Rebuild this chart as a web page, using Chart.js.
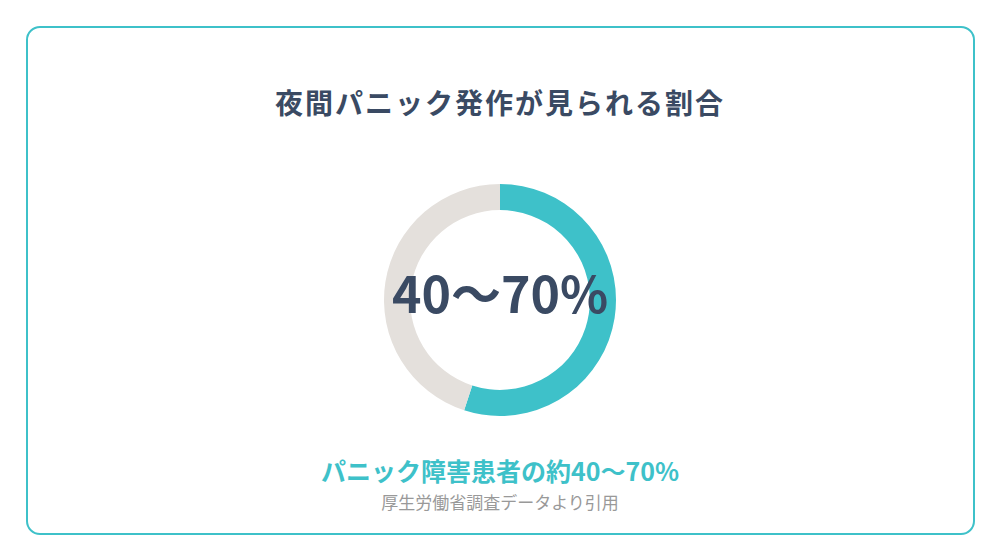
<!DOCTYPE html>
<html lang="ja">
<head>
<meta charset="utf-8">
<script src="https://cdn.jsdelivr.net/npm/chart.js@4/dist/chart.umd.min.js"></script>
<style>
  html, body { margin: 0; padding: 0; background: #fff; }
  body { width: 1000px; height: 560px; position: relative; font-family: "Noto Sans CJK JP", "Noto Sans", sans-serif; }
  .card {
    position: absolute; left: 26px; top: 26px; width: 945px; height: 505px;
    border: 2px solid #3ec1c9; border-radius: 14px; background: #fff;
  }
  .title {
    position: absolute; left: 0; top: 84px; width: 1000px; text-align: center;
    font-size: 28px; font-weight: 700; color: #3a4a63; line-height: 36px; letter-spacing: 2px;
  }
  .chart-box { position: absolute; left: 384px; top: 184px; width: 232px; height: 232px; }
  .sub {
    position: absolute; left: 0; top: 453px; width: 1000px; text-align: center;
    font-size: 25px; font-weight: 700; color: #3ec1c9; line-height: 34px;
  }
  .src {
    position: absolute; left: 0; top: 490px; width: 1000px; text-align: center;
    font-size: 17px; color: #999; line-height: 24px;
  }
</style>
</head>
<body>
<div class="card"></div>
<div class="title">夜間パニック発作が見られる割合</div>
<div class="chart-box"><canvas id="donut"></canvas></div>
<div class="sub">パニック障害患者の約40〜70%</div>
<div class="src">厚生労働省調査データより引用</div>
<script>
const labels = ['夜間パニック発作あり', 'その他']
const values = [55, 45]
const centerLabel = '40〜70%'

// draw the big figure in the middle of the ring
const centerText = {
  id: 'centerText',
  afterDraw(chart) {
    const { ctx } = chart
    const meta = chart.getDatasetMeta(0).data[0]
    if (!meta) return
    ctx.save()
    ctx.font = '700 50px "Noto Sans CJK JP", "Noto Sans", sans-serif'
    ctx.fillStyle = '#3a4a63'
    ctx.textAlign = 'center'
    ctx.textBaseline = 'alphabetic'
    ctx.fillText(centerLabel, meta.x, meta.y + 13)
    ctx.restore()
  },
}

new Chart(document.getElementById('donut'), {
  type: 'doughnut',
  data: {
    labels,
    datasets: [{
      data: values,
      backgroundColor: ['#3ec1c9', '#e4e0dc'],
      borderWidth: 0,
    }],
  },
  options: {
    responsive: true,
    maintainAspectRatio: false,
    cutout: '77.5%',
    animation: false,
    layout: { padding: 0 },
    plugins: {
      legend: { display: false },
      tooltip: { enabled: false },
    },
  },
  plugins: [centerText],
})
</script>
</body>
</html>
